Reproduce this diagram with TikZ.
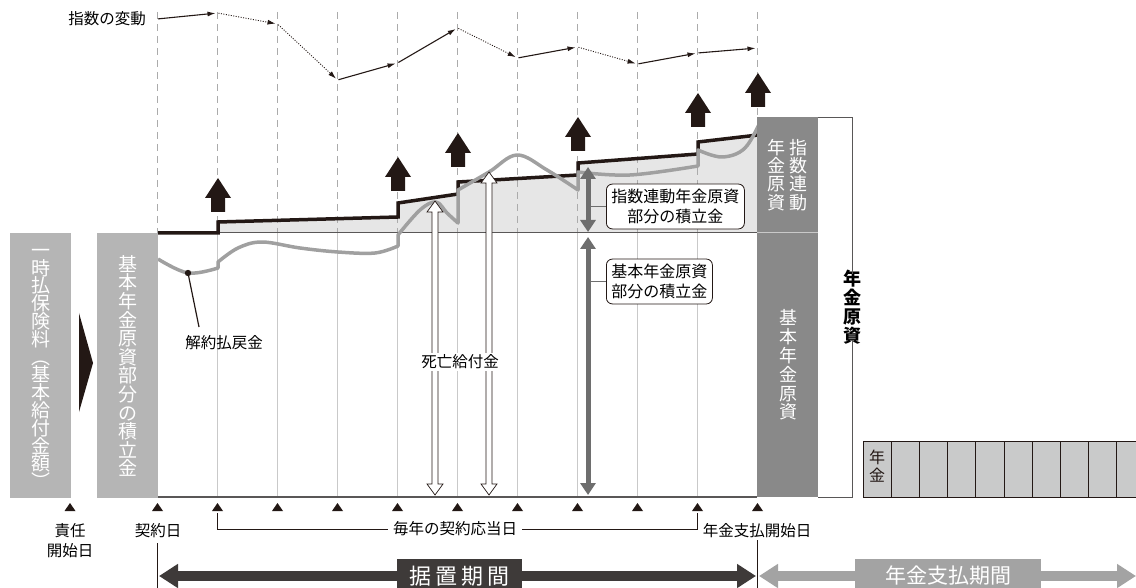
\documentclass[tikz,border=0pt]{standalone}
\usepackage{fontspec}
\setmainfont{Noto Sans CJK JP}
\usetikzlibrary{arrows.meta,positioning}
\definecolor{inkblack}{HTML}{231815}
\definecolor{barlight}{HTML}{B5B5B5}
\definecolor{bardark}{HTML}{898989}
\definecolor{fillzone}{HTML}{E6E6E6}
\definecolor{gridgray}{HTML}{C9C9C9}
\definecolor{dashgray}{HTML}{ABABAB}
\definecolor{curvegray}{HTML}{A0A0A0}
\definecolor{axisgray}{HTML}{595757}
\definecolor{arrowgray}{HTML}{6E6E6E}
\definecolor{periodgray}{HTML}{A3A3A3}
\definecolor{perioddark}{HTML}{3E3A39}
\definecolor{cellgray}{HTML}{C9CACA}

\tikzset{
  gridline/.style={gridgray, line width=0.9pt},
  dashline/.style={dashgray, line width=0.9pt, dash pattern=on 7pt off 5pt},
  idxrise/.style={inkblack, line width=1.1pt, -{Latex[length=8pt,width=5pt]}, shorten >=2pt, shorten <=1pt},
  idxfall/.style={inkblack, line width=0.9pt, dash pattern=on 1pt off 1.5pt, -{Latex[length=8pt,width=5pt]}, shorten >=2pt, shorten <=1pt},
  vtext/.style={align=center, text=white, inner sep=0pt},
  notebox/.style={draw=inkblack, fill=white, rounded corners=6pt, line width=0.8pt, align=center, inner xsep=5pt, inner ysep=5pt, font=\fontsize{16}{20}\selectfont},
  lbl/.style={inner sep=0pt, align=center, font=\fontsize{15.5}{20}\selectfont},
  period/.style={line width=10pt, {Triangle[width=23pt,length=19pt]}-{Triangle[width=23pt,length=19pt]}},
}

\newcommand{\raisearrow}[2]{\fill[inkblack] (#1,#2) -- ++(13,20) -- ++(-6,0) -- ++(0,14) -- ++(-14,0) -- ++(0,-14) -- ++(-6,0) -- cycle;}
\newcommand{\benefitarrow}[3]{\filldraw[fill=white, draw=inkblack, line width=0.7pt] (#1,#2) -- ++(8,11) -- ++(-5,0) -- (#1+3,#3-11) -- ++(5,0) -- (#1,#3) -- ++(-8,-11) -- ++(5,0) -- (#1-3,#2+11) -- ++(-5,0) -- cycle;}

\begin{document}
\begin{tikzpicture}[x=1pt, y=-1pt]
\useasboundingbox (0,0) rectangle (1136,588);
%zone of the index part
\fill[fillzone] (218,233) -- (218,222) -- (398,217) -- (398,203) -- (458,194) -- (458,182) -- (578,175) -- (578,163) -- (698,154) -- (698,142) -- (758,135) -- (758,233) -- cycle;
%grid
\foreach \k in {0,...,10} \draw[dashline] (157.5+60*\k,12) -- (157.5+60*\k,233);
\foreach \k in {1,...,9} \draw[gridline] (157.5+60*\k,233) -- (157.5+60*\k,497);
\draw[axisgray, line width=1pt] (158,233) -- (757,233);
\draw[axisgray, line width=1.3pt] (158,497) -- (757,497);
%steps and value
\draw[inkblack, line width=3.5pt] (158,233) -- (218,233) -- (218,222) -- (398,217) -- (398,203) -- (458,194) -- (458,182) -- (578,175) -- (578,163) -- (698,154) -- (698,142) -- (758,135);
\draw[curvegray, line width=3.5pt, line join=round]
  plot[smooth, tension=0.6] coordinates {(158,259) (188,273) (218,268)}
  -- plot[smooth, tension=0.6] coordinates {(218,262) (238,248) (262,242) (300,248) (338,252) (375,253) (398,246)}
  -- plot[smooth, tension=0.6] coordinates {(398,235) (420,210) (436,202) (447,213) (458,223)}
  -- plot[smooth, tension=0.6] coordinates {(458,190) (489,172) (517,155) (547,170) (578,190)}
  -- plot[smooth, tension=0.6] coordinates {(578,172) (630,175) (698,166)}
  -- plot[smooth, tension=0.6] coordinates {(698,150) (722,157) (745,148) (762,118)};
%block arrows
\foreach \x/\y in {218/178, 398/157, 458/133, 578/117, 698/93, 758/73} {\raisearrow{\x}{\y}}
%index
\node[lbl, anchor=east] (idxlabel) at (146,19) {指数の変動};
\coordinate (i0) at (157,19);
\foreach \k/\v in {1/13, 2/24, 3/80, 4/63, 5/28, 6/58, 7/47, 8/64, 9/53, 10/48} \coordinate (i\k) at (157.5+60*\k,\v);
\foreach \a/\b/\s in {0/1/idxrise, 1/2/idxfall, 2/3/idxfall, 3/4/idxrise, 4/5/idxrise, 5/6/idxfall, 6/7/idxrise, 7/8/idxfall, 8/9/idxrise, 9/10/idxrise} \draw[\s] (i\a) -- (i\b);
%left bars
\fill[barlight] (10,233) rectangle (71,498);
\fill[barlight] (97,233) rectangle (158,498);
\fill[inkblack] (79,313) -- (93,363) -- (79,412) -- cycle;
\node[vtext, font=\fontsize{19}{17.8}\selectfont] (premium) at (40.5,369) {一\\時\\払\\保\\険\\料\\︵\\基\\本\\給\\付\\金\\額\\︶};
\node[vtext, font=\fontsize{19}{18.6}\selectfont] (basefund) at (127.5,366) {基\\本\\年\\金\\原\\資\\部\\分\\の\\積\\立\\金};
%right bar
\fill[bardark] (757,117) rectangle (818,497);
\draw[gridgray, line width=1pt] (757,233) -- (818,233);
\node[vtext, font=\fontsize{18}{18.3}\selectfont] (idxfundA) at (798,175) {指\\数\\連\\動};
\node[vtext, font=\fontsize{18}{18.3}\selectfont] (idxfundB) at (776,175) {年\\金\\原\\資};
\node[vtext, font=\fontsize{18}{18.8}\selectfont] (basepart) at (788,365) {基\\本\\年\\金\\原\\資};
\node[inner sep=0pt, align=center, font=\bfseries\fontsize{18}{19}\selectfont] (fund) at (852,307) {年\\金\\原\\資};
\draw[axisgray, line width=0.9pt] (818,117) -| ([yshift=-4pt]fund.north);
\draw[axisgray, line width=0.9pt] (818,497) -| ([yshift=4pt]fund.south);
%pension cells
\foreach \k in {0,...,10} \filldraw[fill=cellgray, draw=inkblack, line width=1pt] (863+28.2*\k,441) rectangle ++(28.2,56);
\node[inner sep=0pt, align=center, font=\fontsize{16}{18}\selectfont, text=inkblack] (pay) at (877,466) {年\\金};
%accumulation arrows
\coordinate (ia) at (588,167);
\coordinate (ib) at (588,232);
\coordinate (ba) at (588,237);
\coordinate (bb) at (588,495);
\draw[arrowgray, line width=5pt, {Triangle[width=15pt,length=12pt]}-{Triangle[width=15pt,length=12pt]}] (ia) -- (ib);
\draw[arrowgray, line width=5pt, {Triangle[width=15pt,length=12pt]}-{Triangle[width=15pt,length=12pt]}] (ba) -- (bb);
\node[notebox, anchor=west] (idxnote) at (606,206.5) {指数連動年金原資\\部分の積立金};
\node[notebox, anchor=west] (basenote) at (606,281.5) {基本年金原資\\部分の積立金};
\draw[arrowgray, line width=0.8pt] (ia |- idxnote.west) -- (idxnote.west);
\draw[arrowgray, line width=0.8pt] (ba |- basenote.west) -- (basenote.west);
%death benefit
\benefitarrow{435}{201}{495}
\benefitarrow{489}{172}{495}
\node[lbl, fill=white, inner sep=1.5pt] (death) at (460,362) {死亡給付金};
%surrender
\coordinate (dot) at (188,273);
\coordinate (surrtip) at (199,327);
\fill[inkblack] (dot) circle (3.2);
\draw[inkblack, line width=1.2pt] (dot) -- (surrtip);
\node[lbl] (surr) at (224,343) {解約払戻金};
%ticks
\foreach \x in {70,157.5,217.5,...,757.5} \fill[inkblack] (\x-5.5,511) -- (\x+5.5,511) -- (\x,503) -- cycle;
\node[lbl] (start) at (70,541) {責任\\開始日};
\node[lbl] (contract) at (158,531) {契約日};
\node[lbl, inner xsep=5pt] (anniv) at (455,529) {毎年の契約応当日};
\node[lbl] (paystart) at (757,531) {年金支払開始日};
\draw[inkblack, line width=0.8pt] (217.5,513) |- (anniv.west);
\draw[inkblack, line width=0.8pt] (anniv.east) -| (697.5,513);
%periods
\coordinate (cl) at (157.5,543);
\coordinate (cr) at (757.5,540);
\draw[inkblack, line width=0.9pt] (cl) -- (157.5,588);
\draw[inkblack, line width=0.9pt] (cr) -- (757.5,588);
\coordinate (defL) at (159,576);
\coordinate (defR) at (756,576);
\coordinate (payL) at (759,576);
\coordinate (payR) at (1136,576);
\draw[period, perioddark] (defL) -- (defR);
\draw[period, periodgray] (payL) -- (payR);
\node[fill=perioddark, text=white, minimum width=125pt, minimum height=34pt, inner sep=0pt, font=\fontsize{22}{24}\selectfont] (defer) at (459.5,576) {据\hspace{4pt}置\hspace{4pt}期\hspace{4pt}間};
\node[fill=periodgray, text=white, minimum width=186pt, minimum height=34pt, inner sep=0pt, font=\fontsize{21}{24}\selectfont] (payperiod) at (948,576) {年金支払期間};
\end{tikzpicture}
\end{document}
